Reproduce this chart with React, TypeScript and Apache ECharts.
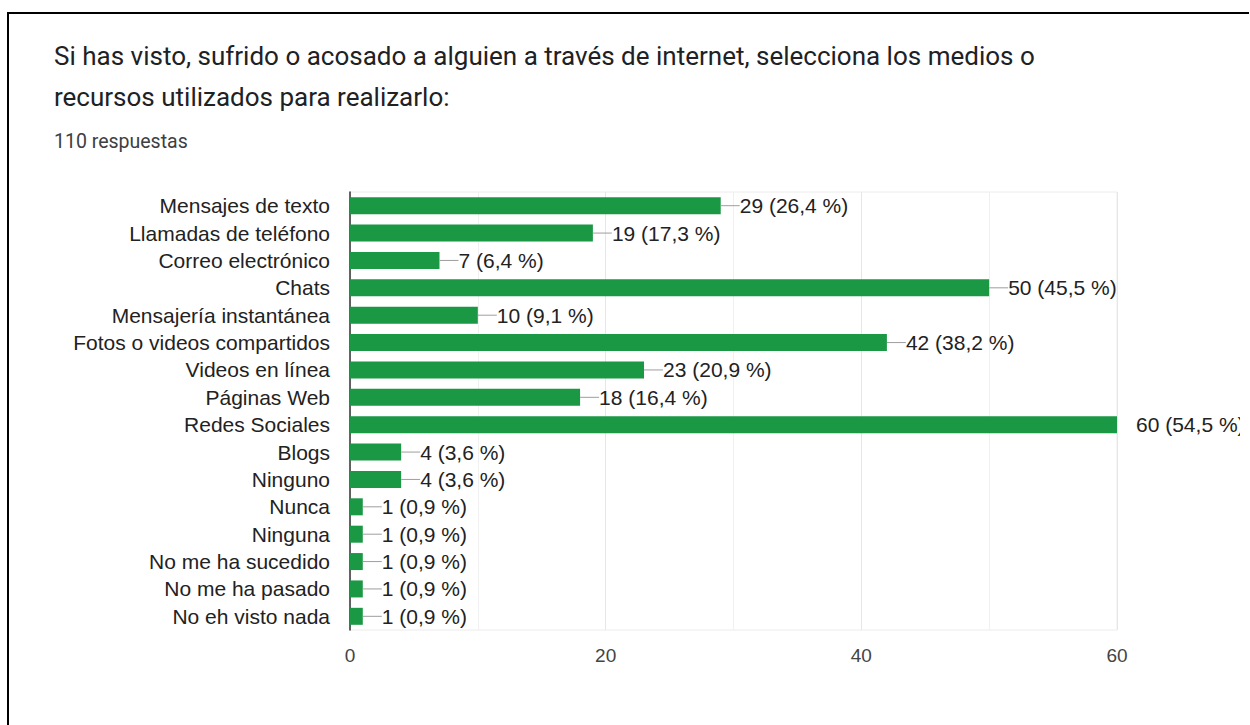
import React, { useEffect, useRef } from "react";
import * as echarts from "echarts";

const categories = [
  "Mensajes de texto",
  "Llamadas de teléfono",
  "Correo electrónico",
  "Chats",
  "Mensajería instantánea",
  "Fotos o videos compartidos",
  "Videos en línea",
  "Páginas Web",
  "Redes Sociales",
  "Blogs",
  "Ninguno",
  "Nunca",
  "Ninguna",
  "No me ha sucedido",
  "No me ha pasado",
  "No eh visto nada",
];
const counts = [29, 19, 7, 50, 10, 42, 23, 18, 60, 4, 4, 1, 1, 1, 1, 1];
const percents = ["26,4", "17,3", "6,4", "45,5", "9,1", "38,2", "20,9", "16,4", "54,5", "3,6", "3,6", "0,9", "0,9", "0,9", "0,9", "0,9"];
const xTicks = [0, 20, 40, 60];

const titleLine1 = "Si has visto, sufrido o acosado a alguien a través de internet, selecciona los medios o";
const titleLine2 = "recursos utilizados para realizarlo:";
const subtitle = "110 respuestas";

const LABEL_FONT = "'Liberation Sans', Arial, sans-serif";

export default function App() {
  const ref = useRef<HTMLDivElement>(null);
  useEffect(() => {
    if (!ref.current) return;
    const chart = echarts.init(ref.current, null, { renderer: "svg" });
    const labelData = counts.map((v, i) => [v, i]);
    chart.setOption({
      animation: false,
      backgroundColor: "#ffffff",
      graphic: [
        {
          type: "text",
          left: 54,
          top: 43,
          style: { text: titleLine1, font: "26px Roboto", fill: "#202124" },
        },
        {
          type: "text",
          left: 54,
          top: 84,
          style: { text: titleLine2, font: "26px Roboto", fill: "#202124" },
        },
        {
          type: "text",
          left: 54,
          top: 131,
          style: { text: subtitle, font: "19.5px Roboto", fill: "#3c4043" },
        },
      ],
      grid: {
        left: 350,
        top: 192,
        width: 767,
        height: 438,
        show: true,
        borderColor: "#ececec",
        borderWidth: 1,
      },
      xAxis: {
        type: "value",
        min: 0,
        max: 60,
        interval: 20,
        axisLine: { show: false },
        axisTick: { show: false },
        axisLabel: {
          color: "#444444",
          fontSize: 19,
          fontFamily: LABEL_FONT,
          margin: 16,
          formatter: (v: number) => (xTicks.includes(v) ? String(v) : ""),
        },
        splitLine: { show: true, lineStyle: { color: "#e6e6e6", width: 1 } },
        minorTick: { show: false, splitNumber: 2 },
        minorSplitLine: { show: true, lineStyle: { color: "#f0f0f0", width: 1 } },
      },
      yAxis: {
        type: "category",
        data: categories,
        inverse: true,
        axisLine: { show: true, lineStyle: { color: "#333333", width: 1.5 } },
        axisTick: { show: false },
        axisLabel: {
          color: "#222222",
          fontSize: 21,
          fontFamily: LABEL_FONT,
          margin: 20,
        },
        splitLine: { show: false },
      },
      series: [
        {
          type: "bar",
          data: counts,
          barWidth: 17,
          itemStyle: { color: "#1a9844" },
          z: 2,
        },
        {
          type: "custom",
          clip: false,
          z: 3,
          encode: { x: 0, y: 1 },
          data: labelData,
          renderItem: (params: any, api: any) => {
            const v = api.value(0);
            const idx = api.value(1);
            const pct = percents[idx];
            const p = api.coord([v, idx]);
            const right = params.coordSys.x + params.coordSys.width;
            const x2 = Math.min(p[0] + 19, right);
            const children: any[] = [];
            if (x2 > p[0] + 1) {
              children.push({
                type: "line",
                shape: { x1: p[0], y1: p[1], x2: x2, y2: p[1] },
                style: { stroke: "#9e9e9e", lineWidth: 1 },
              });
            }
            children.push({
              type: "text",
              x: p[0] + 19,
              y: p[1],
              style: {
                text: `${v} (${pct} %)`,
                font: `21px ${LABEL_FONT}`,
                fill: "#222222",
                textAlign: "left",
                textVerticalAlign: "middle",
              },
            });
            return { type: "group", children };
          },
        },
      ],
    });
    return () => chart.dispose();
  }, []);

  return (
    <div style={{ position: "absolute", left: 0, top: 0, width: 1250, height: 725, background: "#fff", overflow: "hidden" }}>
      <div ref={ref} style={{ position: "absolute", left: 0, top: 0, width: 1240, height: 725 }} />
      <div style={{ position: "absolute", left: 8, top: 12, width: 1241, height: 2, background: "#000" }} />
      <div style={{ position: "absolute", left: 7, top: 12, width: 2, height: 713, background: "#000" }} />
    </div>
  );
}
